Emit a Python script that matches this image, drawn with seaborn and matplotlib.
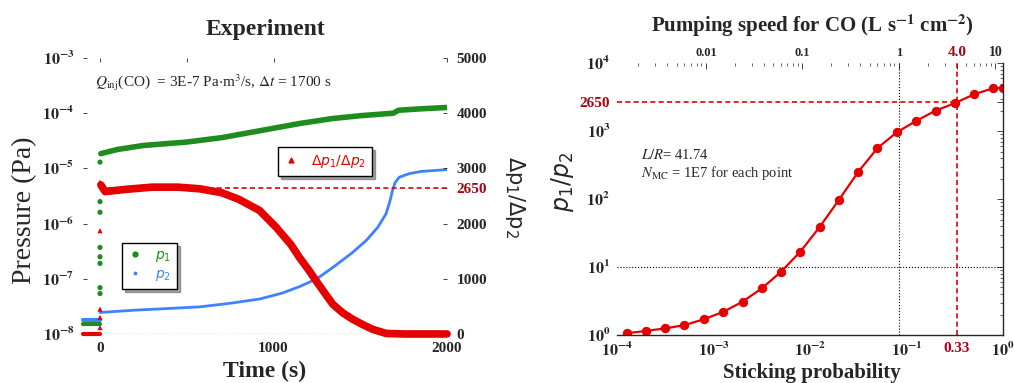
import matplotlib
matplotlib.use('Agg')
import matplotlib.pyplot as plt
import seaborn as sns
from matplotlib.lines import Line2D
from matplotlib.ticker import FixedLocator, LogLocator, NullFormatter

# ==========================================
# 1. DATA
# ==========================================
# --- Experiment: pressures p1, p2 and ratio vs time ---
t_pre = [-100, 0]
p1_pre = [1.5e-8, 1.5e-8]
p2_pre = [1.8e-8, 1.8e-8]
ratio_pre = [0, 0]

# burst of points right at t = 0 (valve opening)
t_jump_p1 = [0, 0, 0, 0, 0, 0, 0, 0]
p1_jump = [1.3e-5, 2.5e-6, 1.6e-6, 3.7e-7, 2.5e-7, 1.9e-7, 6.9e-8, 5.4e-8]
t_jump_ratio = [0, 0, 0, 0, 0]
ratio_jump = [1870, 450, 300, 115, 2750]

t_p1 = [5, 100, 250, 500, 700, 920, 1150, 1340, 1500, 1690, 1720, 1850, 2000]
p1 = [1.85e-5, 2.2e-5, 2.6e-5, 3.0e-5, 3.6e-5, 4.8e-5, 6.5e-5, 8.0e-5, 9.0e-5,
      1.0e-4, 1.13e-4, 1.2e-4, 1.27e-4]

t_p2 = [0, 200, 400, 575, 750, 920, 1050, 1149, 1250, 1341, 1450, 1533, 1600,
        1648, 1670, 1686, 1700, 1724, 1780, 1850, 2000]
p2 = [2.45e-8, 2.7e-8, 2.9e-8, 3.1e-8, 3.6e-8, 4.3e-8, 5.5e-8, 7.2e-8, 1.0e-7,
      1.6e-7, 2.9e-7, 4.9e-7, 8.5e-7, 1.5e-6, 2.5e-6, 4.0e-6, 5.5e-6, 6.9e-6,
      8.0e-6, 8.8e-6, 9.5e-6]

t_ratio = [5, 30, 150, 300, 450, 575, 700, 800, 920, 1015, 1100, 1149, 1200,
           1245, 1300, 1341, 1400, 1456, 1520, 1571, 1648, 1750, 2000]
ratio = [2700, 2580, 2620, 2660, 2660, 2630, 2560, 2440, 2236, 1933, 1620, 1387,
         1170, 964, 720, 540, 380, 267, 160, 85, 10, 0, 0]

# --- Monte Carlo: p1/p2 vs sticking probability ---
sticking = [1.26e-4, 2.0e-4, 3.16e-4, 5.0e-4, 7.9e-4, 1.26e-3, 2.0e-3, 3.16e-3,
            5.0e-3, 7.9e-3, 1.26e-2, 2.0e-2, 3.16e-2, 5.0e-2, 7.9e-2, 0.126,
            0.2, 0.316, 0.5, 0.79, 1.0]
p_ratio_mc = [1.06, 1.15, 1.25, 1.40, 1.70, 2.19, 3.09, 4.85, 8.5, 16.7, 38.9,
              98, 251, 562, 955, 1413, 1995, 2570, 3467, 4266, 4300]

# conversion sticking probability -> pumping speed for CO (L s^-1 cm^-2)
SPEED_PER_S = 12.0
speed_ticks = [0.01, 0.1, 1, 4.0, 10]
speed_labels = ['0.01', '0.1', '1', '4.0', '10']

RATIO_REF = 2650
S_REF = 0.33

# ==========================================
# 2. STYLE
# ==========================================
sns.set_style("white")
plt.rcParams['font.family'] = ['Liberation Serif', 'DejaVu Serif']
plt.rcParams['mathtext.fontset'] = 'stix'
plt.rcParams['xtick.direction'] = 'in'
plt.rcParams['ytick.direction'] = 'in'

GREEN = '#1e8c1e'
BLUE = '#3f82ff'
RED = '#e60000'
DARKRED = '#b0000f'

fig = plt.figure(figsize=(10.14, 3.83), dpi=100)


def bold_pow(e):
    return r'$\mathbf{10^{%d}}$' % e


# ==========================================
# 3. LEFT PANEL: EXPERIMENT
# ==========================================
ax1 = fig.add_axes([0.0815, 0.128, 0.3594, 0.7206])
ax1.set_yscale('log')

sns.lineplot(x=t_pre, y=p2_pre, ax=ax1, color=BLUE, lw=3, clip_on=False)
sns.lineplot(x=t_pre, y=p1_pre, ax=ax1, color=GREEN, lw=3, clip_on=False)
sns.lineplot(x=t_p2, y=p2, ax=ax1, color=BLUE, lw=2)
sns.lineplot(x=t_p1, y=p1, ax=ax1, color=GREEN, lw=4)
sns.scatterplot(x=t_jump_p1, y=p1_jump, ax=ax1, color=GREEN, s=14,
                edgecolor='none', marker='o')
ax1.hlines(1e-8, 0, 2000, colors='#888888', linestyles=':', lw=1)

ax1.set_xlim(-100, 2000)
ax1.set_ylim(1e-8, 1e-3)
ax1.set_xticks([0, 1000, 2000])
ax1.set_xticklabels(['0', '1000', '2000'], fontweight='bold', fontsize=11)
ax1.xaxis.set_minor_locator(FixedLocator([500]))
ax1.set_yticks([1e-8, 1e-7, 1e-6, 1e-5, 1e-4, 1e-3])
ax1.set_yticklabels([bold_pow(e) for e in range(-8, -2)], fontsize=11.5)
ax1.yaxis.set_minor_locator(FixedLocator([]))
ax1.yaxis.set_minor_formatter(NullFormatter())
ax1.tick_params(axis='both', length=3, width=0.6, pad=6)
ax1.tick_params(axis='x', which='both', top=True)
ax1.tick_params(axis='x', which='minor', length=3, width=0.6)
for sp in ax1.spines.values():
    sp.set_visible(False)

ax2 = ax1.twinx()
ax2.hlines(RATIO_REF, 0, 2000, colors=RED, linestyles=(0, (3, 2)), lw=1.2)
sns.lineplot(x=t_pre, y=ratio_pre, ax=ax2, color=RED, lw=3, clip_on=False)
sns.lineplot(x=t_ratio, y=ratio, ax=ax2, color=RED, lw=5.5, clip_on=False)
sns.scatterplot(x=t_jump_ratio, y=ratio_jump, ax=ax2, color=RED, s=14,
                marker='^', edgecolor='none')
ax2.set_ylim(0, 5000)
ax2.set_yticks([0, 1000, 2000, RATIO_REF, 3000, 4000, 5000])
ax2.set_yticklabels(['0', '1000', '2000', str(RATIO_REF), '3000', '4000', '5000'],
                    fontweight='bold', fontsize=11)
ax2.get_yticklabels()[3].set_color(DARKRED)
ax2.tick_params(axis='y', length=3, width=0.6, pad=7)
for sp in ax2.spines.values():
    sp.set_visible(False)

leg1 = ax2.legend(handles=[Line2D([], [], ls='none', marker='^', ms=3.5, color=RED)],
                  labels=[r'$\Delta p_1/\Delta p_2$'],
                  loc='upper left', bbox_to_anchor=(0.536, 0.678),
                  frameon=True, fancybox=False, shadow=True, edgecolor='black',
                  fontsize=10, handlelength=1.0, handletextpad=0.9,
                  borderpad=0.45, borderaxespad=0)
leg1.get_frame().set_linewidth(1.0)
for txt in leg1.get_texts():
    txt.set_color(RED)
    txt.set_math_fontfamily('dejavusans')

leg2 = ax2.legend(handles=[Line2D([], [], ls='none', marker='o', ms=3.5, color=GREEN),
                           Line2D([], [], ls='none', marker='o', ms=1.8, color=BLUE)],
                  labels=[r'$p_1$', r'$p_2$'],
                  loc='upper left', bbox_to_anchor=(0.108, 0.33),
                  frameon=True, fancybox=False, shadow=True, edgecolor='black',
                  fontsize=10, handlelength=1.0, handletextpad=0.9,
                  borderpad=0.45, labelspacing=0.25, borderaxespad=0)
leg2.get_frame().set_linewidth(1.0)
for txt, col in zip(leg2.get_texts(), [GREEN, BLUE]):
    txt.set_color(col)
    txt.set_math_fontfamily('dejavusans')
ax2.add_artist(leg1)

fig.text(95 / 1014, 1 - 83 / 383,
         r'$Q_{\rm inj}$(CO)  = 3E-7 Pa$\cdot$m$^3$/s, $\Delta t$ = 1700 s',
         fontsize=11, ha='left', va='center')
fig.text(265 / 1014, 1 - 30 / 383, 'Experiment', fontsize=17, fontweight='bold',
         ha='center', va='center')
fig.text(265 / 1014, 1 - 371 / 383, 'Time (s)', fontsize=17, fontweight='bold',
         ha='center', va='center')
fig.text(25 / 1014, 1 - 210 / 383, 'Pressure (Pa)', fontsize=20, rotation=90,
         ha='center', va='center')
t_lab = fig.text(515 / 1014, 1 - 197 / 383, r'$\Delta\mathrm{p}_1/\Delta\mathrm{p}_2$',
                 fontsize=15, rotation=270, ha='center', va='center')
t_lab.set_math_fontfamily('dejavusans')

# ==========================================
# 4. RIGHT PANEL: MONTE CARLO
# ==========================================
ax3 = fig.add_axes([0.6085, 0.1253, 0.3807, 0.710])
ax3.set_xscale('log')
ax3.set_yscale('log')

ax3.axhline(10, color='black', ls=':', lw=0.8)
ax3.axvline(1 / SPEED_PER_S, color='black', ls=':', lw=0.8)
ax3.hlines(RATIO_REF, 1e-4, S_REF, colors=RED, linestyles=(0, (3, 2)), lw=1.2)
ax3.axvline(S_REF, color=RED, ls=(0, (3, 2)), lw=1.2)
sns.lineplot(x=sticking, y=p_ratio_mc, ax=ax3, color=RED, lw=1.6, marker='o',
             markersize=6, markeredgecolor=RED)

ax3.set_xlim(1e-4, 1)
ax3.set_ylim(1, 1e4)
ax3.set_xticks([1e-4, 1e-3, 1e-2, 1e-1, 1, S_REF])
ax3.set_xticklabels([bold_pow(e) for e in range(-4, 1)] + [str(S_REF)], fontsize=11.5)
ax3.get_xticklabels()[5].set_color(DARKRED)
ax3.get_xticklabels()[5].set_fontweight('bold')
ax3.get_xticklabels()[5].set_fontsize(11)
ax3.xaxis.set_minor_locator(LogLocator(base=10, subs=range(2, 10), numticks=20))
ax3.xaxis.set_minor_formatter(NullFormatter())
ax3.set_yticks([1, 10, 100, 1000, RATIO_REF, 1e4])
ax3.set_yticklabels([bold_pow(e) for e in range(0, 4)] + [str(RATIO_REF), bold_pow(4)],
                    fontsize=11.5)
ax3.get_yticklabels()[4].set_color(DARKRED)
ax3.get_yticklabels()[4].set_fontweight('bold')
ax3.get_yticklabels()[4].set_fontsize(11)
ax3.yaxis.set_minor_locator(LogLocator(base=10, subs=range(2, 10), numticks=20))
ax3.yaxis.set_minor_formatter(NullFormatter())
ax3.tick_params(axis='both', which='major', length=4, width=0.6, pad=5,
                right=True)
ax3.tick_params(axis='both', which='minor', length=2, width=0.5, right=True)
ax3.set_xlabel('')
ax3.set_ylabel('')
ax3.spines['left'].set_visible(False)
ax3.spines['top'].set_visible(False)
ax3.spines['right'].set_linewidth(1.0)
ax3.spines['bottom'].set_linewidth(1.0)

top = ax3.secondary_xaxis('top', functions=(lambda s: s * SPEED_PER_S,
                                             lambda v: v / SPEED_PER_S))
top.set_xticks(speed_ticks)
top.set_xticklabels(speed_labels, fontweight='bold', fontsize=9)
top.get_xticklabels()[3].set_color(DARKRED)
top.get_xticklabels()[3].set_fontsize(11)
top.get_xticklabels()[4].set_fontsize(10)
top.xaxis.set_minor_locator(LogLocator(base=10, subs=range(2, 10), numticks=20))
top.xaxis.set_minor_formatter(NullFormatter())
top.tick_params(axis='x', which='major', length=4, width=0.6, pad=3)
top.tick_params(axis='x', which='minor', length=2, width=0.5)
top.spines['top'].set_visible(False)

fig.text(812 / 1014, 1 - 26 / 383, r'Pumping speed for CO (L s$^{\mathbf{-1}}$ cm$^{\mathbf{-2}}$)',
         fontsize=15, fontweight='bold', ha='center', va='center')
fig.text(812 / 1014, 1 - 373 / 383, 'Sticking probability', fontsize=15,
         fontweight='bold', ha='center', va='center')
p_lab = fig.text(562 / 1014, 1 - 182 / 383, r'$p_1/p_2$', fontsize=17, rotation=90,
                 ha='center', va='center')
p_lab.set_math_fontfamily('dejavusans')
fig.text(641 / 1014, 1 - 155 / 383, r'$L/R$= 41.74', fontsize=10.5,
         ha='left', va='center')
fig.text(641 / 1014, 1 - 173 / 383, r'$N_{\rm MC}$ = 1E7 for each point', fontsize=10.5,
         ha='left', va='center')

plt.savefig('out.png', dpi=100)
